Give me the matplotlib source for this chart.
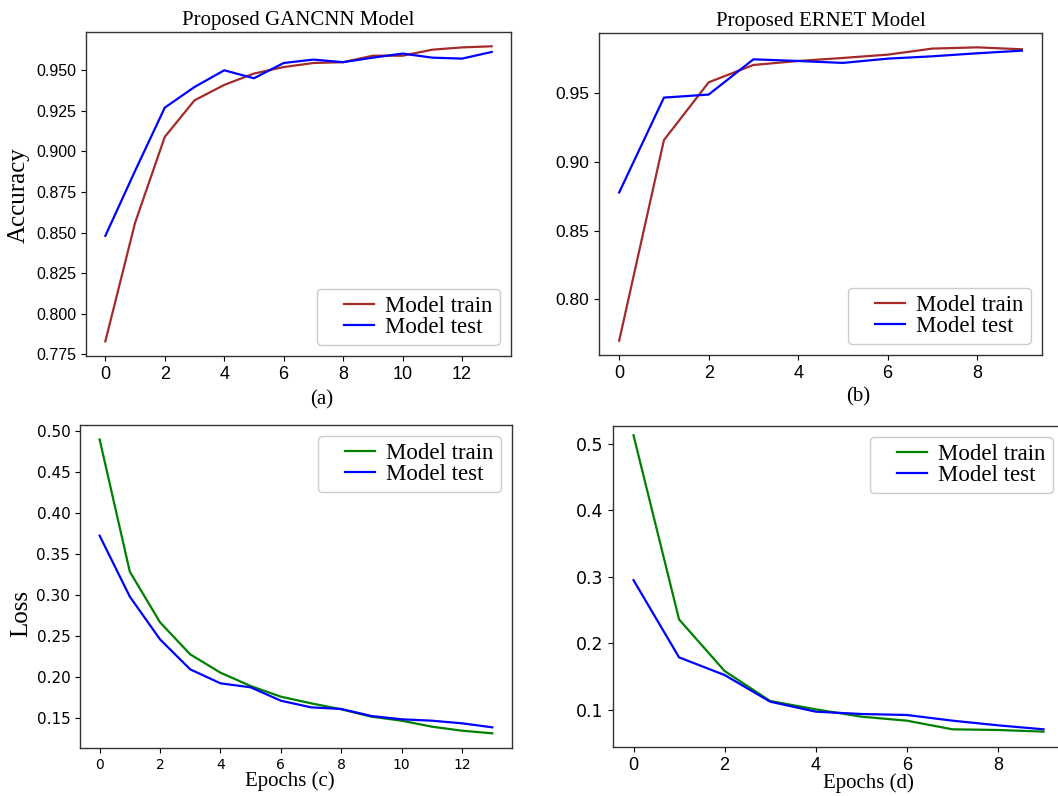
import matplotlib
matplotlib.use("Agg")
import matplotlib.pyplot as plt
import numpy as np
from matplotlib.legend_handler import HandlerLine2D

# epochs
epochs_gan = list(range(14))
epochs_er = list(range(10))

# accuracy
gan_acc_train = [0.783, 0.856, 0.909, 0.9315, 0.941, 0.948, 0.952, 0.9545, 0.955, 0.959, 0.959, 0.9627, 0.9641, 0.9648]
gan_acc_test = [0.848, 0.888, 0.927, 0.9397, 0.950, 0.9451, 0.9545, 0.9566, 0.955, 0.9578, 0.9603, 0.9578, 0.9572, 0.9613]
er_acc_train = [0.770, 0.9157, 0.9577, 0.9703, 0.9732, 0.9754, 0.9778, 0.9822, 0.9831, 0.9817]
er_acc_test = [0.8777, 0.9466, 0.9488, 0.9744, 0.9732, 0.9718, 0.9749, 0.9766, 0.9788, 0.9807]

# loss
gan_loss_train = [0.4894, 0.328, 0.2663, 0.2272, 0.2049, 0.1886, 0.1756, 0.1675, 0.1602, 0.1512, 0.1463, 0.139, 0.1341, 0.1309]
gan_loss_test = [0.372, 0.2976, 0.2455, 0.2089, 0.1919, 0.187, 0.1707, 0.1626, 0.1606, 0.152, 0.148, 0.1463, 0.1431, 0.1382]
er_loss_train = [0.5125, 0.236, 0.1585, 0.1135, 0.101, 0.090, 0.084, 0.071, 0.070, 0.0675]
er_loss_test = [0.295, 0.179, 0.1525, 0.1125, 0.0975, 0.094, 0.0925, 0.084, 0.077, 0.071]

# ticks
ticks_a_y = [0.775, 0.800, 0.825, 0.850, 0.875, 0.900, 0.925, 0.950]
ticks_b_y = [0.80, 0.85, 0.90, 0.95]
ticks_c_y = [0.15, 0.20, 0.25, 0.30, 0.35, 0.40, 0.45, 0.50]
ticks_d_y = [0.1, 0.2, 0.3, 0.4, 0.5]
ticks_gan_x = [0, 2, 4, 6, 8, 10, 12]
ticks_er_x = [0, 2, 4, 6, 8]

serif = "Liberation Serif"
narrow = "Liberation Sans"
wide = "DejaVu Sans"

brown = "#a52a2a"
blue = "#0000ff"
green = "#008000"


# legend line drawn only in the right part of the handle box
class ShortLine(HandlerLine2D):
    def create_artists(self, legend, orig_handle, xdescent, ydescent, width, height, fontsize, trans):
        arts = super().create_artists(legend, orig_handle, xdescent, ydescent, width, height, fontsize, trans)
        x0 = -xdescent
        n = len(arts[0].get_ydata())
        arts[0].set_xdata(np.linspace(x0 + 0.4 * width, x0 + width, n))
        return arts


fig = plt.figure(figsize=(10.58, 7.96), dpi=100)
ax_a = fig.add_axes([0.0813, 0.5528, 0.4017, 0.4070])
ax_b = fig.add_axes([0.5662, 0.5540, 0.4187, 0.4045])
ax_c = fig.add_axes([0.0756, 0.0603, 0.4083, 0.4058])
ax_d = fig.add_axes([0.5794, 0.0616, 0.4263, 0.4033])

for ax in (ax_a, ax_b, ax_c, ax_d):
    for s in ax.spines.values():
        s.set_color("#333333")
        s.set_linewidth(1.0)

leg_kw = dict(prop={"family": serif, "size": 16.5}, labelspacing=0.0,
              borderpad=0.3, handlelength=2.2, handletextpad=0.5,
              fancybox=True, framealpha=1, edgecolor="#cccccc",
              handler_map={plt.Line2D: ShortLine()})

# (a)
ax_a.plot(epochs_gan, gan_acc_train, color=brown, lw=1.6, label="Model train")
ax_a.plot(epochs_gan, gan_acc_test, color=blue, lw=1.6, label="Model test")
ax_a.set_ylim(0.774, 0.9736)
ax_a.set_yticks(ticks_a_y)
ax_a.set_yticklabels([f"{v:.3f}" for v in ticks_a_y], family=narrow, fontsize=11.5)
ax_a.set_xticks(ticks_gan_x)
ax_a.set_xticklabels([str(v) for v in ticks_gan_x], family=narrow, fontsize=13)
ax_a.set_title("Proposed GANCNN Model", family=serif, fontsize=15, pad=5)
ax_a.set_ylabel("Accuracy", family=serif, fontsize=18)
ax_a.yaxis.set_label_coords(-0.132, 0.497)
ax_a.legend(loc="lower right", **leg_kw)

# (b)
ax_b.plot(epochs_er, er_acc_train, color=brown, lw=1.6, label="Model train")
ax_b.plot(epochs_er, er_acc_test, color=blue, lw=1.6, label="Model test")
ax_b.set_ylim(0.7596, 0.9935)
ax_b.set_yticks(ticks_b_y)
ax_b.set_yticklabels([f"{v:.2f}" for v in ticks_b_y], family=narrow, fontsize=12.5)
ax_b.set_xticks(ticks_er_x)
ax_b.set_xticklabels([str(v) for v in ticks_er_x], family=narrow, fontsize=13)
ax_b.set_title("Proposed ERNET Model", family=serif, fontsize=15, pad=5)
ax_b.legend(loc="lower right", **leg_kw)

# (c)
ax_c.plot(epochs_gan, gan_loss_train, color=green, lw=1.6, label="Model train")
ax_c.plot(epochs_gan, gan_loss_test, color=blue, lw=1.6, label="Model test")
ax_c.set_ylim(0.113, 0.507)
ax_c.set_yticks(ticks_c_y)
ax_c.set_yticklabels([f"{v:.2f}" for v in ticks_c_y], family=wide, fontsize=11)
ax_c.set_xticks(ticks_gan_x)
ax_c.set_xticklabels([str(v) for v in ticks_gan_x], family=wide, fontsize=10)
ax_c.set_ylabel("Loss", family=serif, fontsize=18)
ax_c.yaxis.set_label_coords(-0.111, 0.415)
ax_c.legend(loc="upper right", **leg_kw)

# (d)
ax_d.plot(epochs_er, er_loss_train, color=green, lw=1.6, label="Model train")
ax_d.plot(epochs_er, er_loss_test, color=blue, lw=1.6, label="Model test")
ax_d.set_ylim(0.0445, 0.5265)
ax_d.set_yticks(ticks_d_y)
ax_d.set_yticklabels([f"{v:.1f}" for v in ticks_d_y], family=wide, fontsize=12.5)
ax_d.set_xticks(ticks_er_x)
ax_d.set_xticklabels([str(v) for v in ticks_er_x], family=narrow, fontsize=13)
ax_d.legend(loc="upper right", **leg_kw)

# panel captions
fig.text(322 / 1058, 1 - 400 / 796, "(a)", family=serif, fontsize=15, ha="center", va="center")
fig.text(858 / 1058, 1 - 397 / 796, "(b)", family=serif, fontsize=15, ha="center", va="center")
fig.text(290 / 1058, 1 - 781 / 796, "Epochs (c)", family=serif, fontsize=15, ha="center", va="center")
fig.text(868 / 1058, 1 - 783 / 796, "Epochs (d)", family=serif, fontsize=15, ha="center", va="center")

fig.savefig("out.png", dpi=100)
